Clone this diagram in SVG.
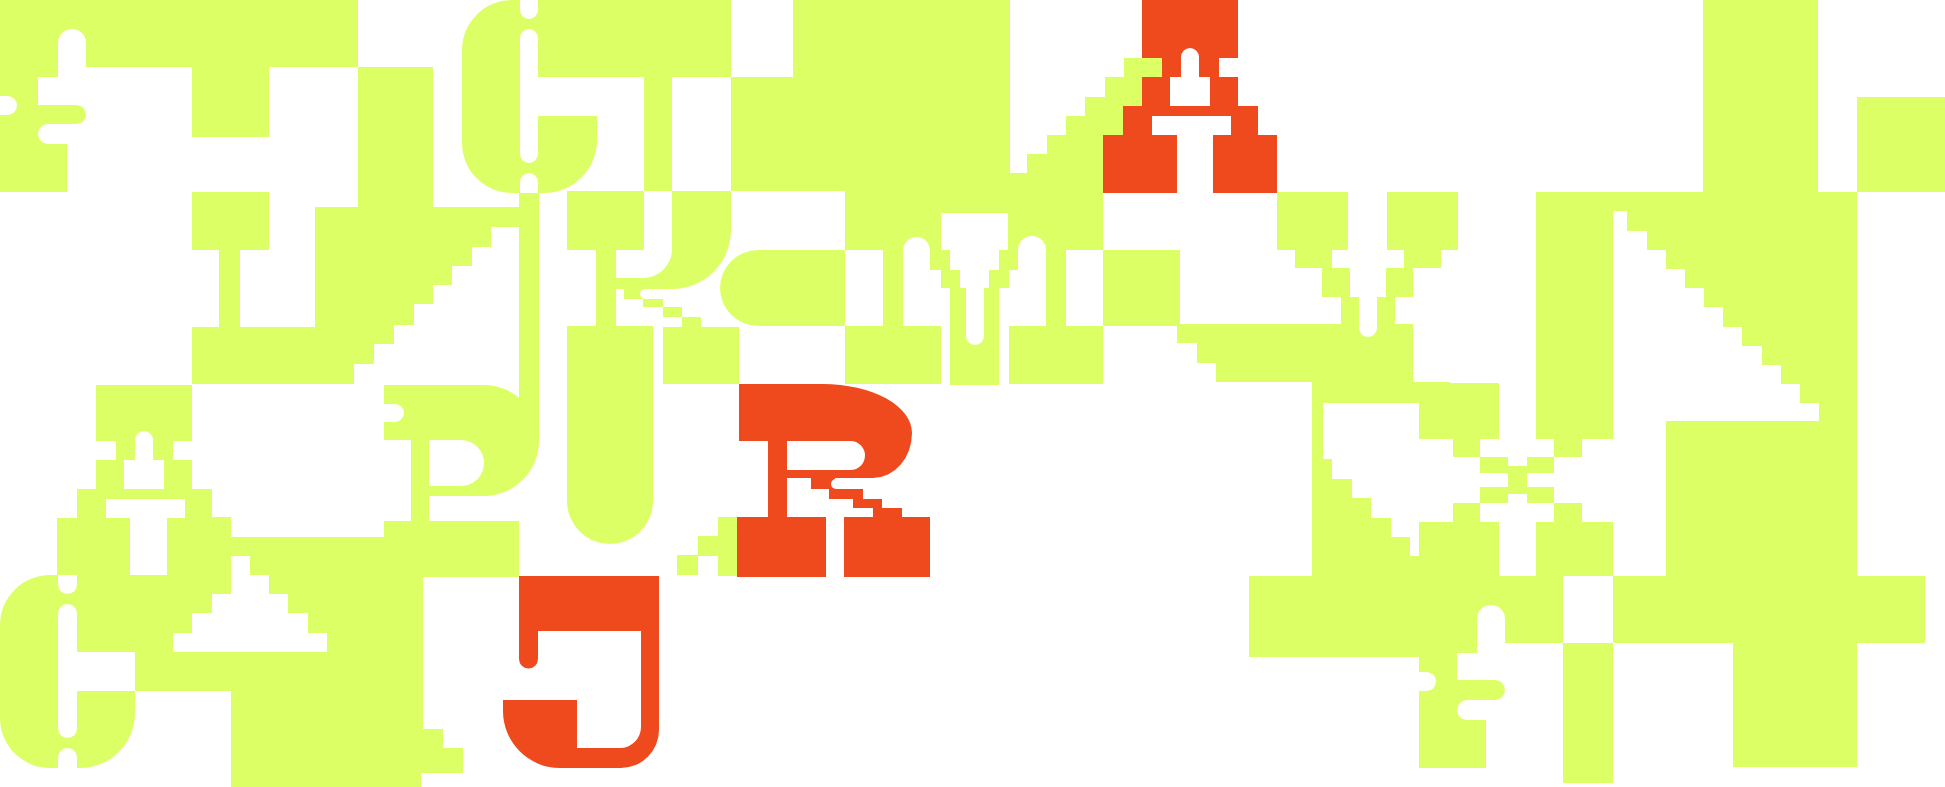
<svg xmlns="http://www.w3.org/2000/svg" width="1945" height="787" viewBox="0 0 1945 787">
<style>
.y{fill:#ddff66}
.o{fill:#ef4a1e}
.w{fill:#ffffff}
</style>
<rect x="0" y="0" width="1945" height="787" fill="#ffffff"/>
<g id="top-left-f">
<rect class="y" x="0" y="0" width="358" height="67"/>
<rect class="y" x="0" y="67" width="67" height="125"/>
<rect class="y" x="192" y="67" width="77" height="70"/>
<path class="w" d="M58,77 V43 A14,14 0 0 1 86,43 V77 Z"/>
<rect class="w" x="38" y="77" width="48" height="28"/>
<path class="y" d="M38,105 H76.5 A9.5,9.5 0 0 1 76.5,124 H38 Z"/>
<path class="w" d="M67,124 H48 A10,10 0 0 0 48,144 H67 Z"/>
<path class="w" d="M0,96 H7.5 A9.5,9.5 0 0 1 7.5,115 H0 Z"/>
</g>
<g id="t-left">
<rect class="y" x="192" y="192" width="77" height="58"/>
<rect class="y" x="219" y="250" width="21" height="77"/>
<rect class="y" x="192" y="327" width="162" height="57"/>
<path class="y" d="M358,67 H433 V207 H519 V227 H491 V247 H472 V266 H452 V285 H433 V304 H414 V325 H394 V344 H374 V364 H354 V384 H315 V207 H358 Z"/>
<rect class="y" x="519" y="193" width="20" height="248"/>
</g>
<g id="c-top">
<path class="y" d="M512,0 H731 V77 H538 V116 H597 V140 A53,53 0 0 1 544,193 H512 A50,50 0 0 1 462,143 V50 A50,50 0 0 1 512,0 Z"/>
<rect class="y" x="644" y="77" width="28" height="114"/>
<path class="w" d="M520,0 V10 A9,9 0 0 0 538,10 V0 Z"/>
<rect class="w" x="520" y="29" width="18" height="134" rx="9"/>
<path class="w" d="M520,193 V182 A9,9 0 0 1 538,182 V193 Z"/>
</g>
<g id="hook">
<rect class="y" x="567" y="191" width="77" height="59"/>
<rect class="y" x="596" y="250" width="20" height="76"/>
<path class="y" d="M672,191 H731 V230 A59,59 0 0 1 672,289 H596 V278 H643 A29,29 0 0 0 672,249 Z"/>
<path class="y" d="M567,326 H653 V501 A43,43 0 0 1 567,501 Z"/>
<rect class="y" x="624" y="289" width="22" height="10"/>
<circle class="w" cx="645" cy="294" r="5"/>
<rect class="y" x="643" y="299" width="20" height="8"/>
<rect class="y" x="663" y="307" width="19" height="10"/>
<rect class="y" x="682" y="317" width="19" height="10"/>
<rect class="y" x="663" y="327" width="76" height="57"/>
</g>
<g id="pill">
<path class="y" d="M758,250 H845 V326 H758 A38,38 0 0 1 758,250 Z"/>
</g>
<g id="middle-top">
<path class="y" d="M731,77 V191 H845 V250 H941 V213 H1008 V250 H1103 V135 H1123 V106 H1142 V77 H1162 V58 H1124 V77 H1105 V97 H1085 V116 H1066 V135 H1047 V154 H1027 V173 H1010 V0 H793 V77 Z"/>
</g>
<g id="funnel">
<rect class="y" x="883" y="250" width="20" height="76"/>
<path class="w" d="M903,326 V250.5 A13.5,13.5 0 0 1 930,250.5 V326 Z"/>
<rect class="y" x="930" y="250" width="20" height="20"/>
<rect class="y" x="941" y="270" width="19" height="18"/>
<rect class="y" x="950" y="288" width="49" height="97"/>
<rect class="y" x="999" y="250" width="19" height="20"/>
<rect class="y" x="989" y="270" width="20" height="18"/>
<path class="w" d="M966,270 V336 A9,9 0 0 0 984,336 V270 Z"/>
<path class="w" d="M1018,326 V250 A14,14 0 0 1 1046,250 V326 Z"/>
<rect class="y" x="1046" y="250" width="20" height="76"/>
<rect class="y" x="845" y="326" width="96" height="58"/>
<rect class="y" x="1009" y="326" width="94" height="58"/>
<rect class="y" x="1103" y="250" width="77" height="76"/>
</g>
<g id="orange-a">
<rect class="o" x="1142" y="0" width="96" height="58"/>
<rect class="o" x="1162" y="58" width="19" height="19"/>
<rect class="o" x="1199" y="58" width="20" height="19"/>
<rect class="o" x="1142" y="77" width="28" height="29"/>
<rect class="o" x="1210" y="77" width="28" height="29"/>
<rect class="o" x="1123" y="106" width="135" height="10"/>
<rect class="o" x="1123" y="116" width="29" height="19"/>
<rect class="o" x="1231" y="116" width="27" height="19"/>
<rect class="o" x="1103" y="135" width="74" height="58"/>
<rect class="o" x="1213" y="135" width="64" height="58"/>
<path class="w" d="M1181,77 V57 A9,9 0 0 1 1199,57 V77 Z"/>
</g>
<g id="v-frame">
<rect class="y" x="1277" y="192" width="71" height="58"/>
<rect class="y" x="1295" y="250" width="37" height="18"/>
<rect class="y" x="1322" y="268" width="28" height="29"/>
<rect class="y" x="1341" y="297" width="18" height="27"/>
<rect class="y" x="1387" y="192" width="71" height="58"/>
<rect class="y" x="1404" y="250" width="37" height="18"/>
<rect class="y" x="1386" y="268" width="27" height="29"/>
<rect class="y" x="1377" y="297" width="18" height="27"/>
<path class="y" d="M1177,324 H1413 V382 H1450 V439 H1419 V403 H1323 V459 H1332 V479 H1352 V498 H1371 V518 H1391 V537 H1410 V556 H1419 V522 H1450 V576 H1312 V382 H1216 V363 H1197 V343 H1177 Z"/>
<path class="w" d="M1359,297 V328 A9,9 0 0 0 1377,328 V297 Z"/>
</g>
<g id="x-mark">
<rect class="y" x="1419" y="383" width="80" height="56"/>
<rect class="y" x="1453" y="439" width="27" height="18"/>
<rect class="y" x="1480" y="457" width="28" height="16"/>
<rect class="y" x="1508" y="466" width="19" height="28"/>
<rect class="y" x="1527" y="457" width="27" height="16"/>
<rect class="y" x="1554" y="439" width="28" height="18"/>
<rect class="y" x="1480" y="487" width="28" height="16"/>
<rect class="y" x="1527" y="487" width="27" height="16"/>
<rect class="y" x="1453" y="503" width="27" height="19"/>
<rect class="y" x="1554" y="503" width="28" height="19"/>
<rect class="y" x="1419" y="522" width="80" height="54"/>
<rect class="y" x="1536" y="522" width="77" height="54"/>
</g>
<g id="right-n">
<rect class="y" x="1703" y="0" width="115" height="192"/>
<rect class="y" x="1857" y="97" width="88" height="95"/>
<path class="y" d="M1536,192 H1857 V576 H1666 V421 H1819 V403 H1800 V384 H1781 V365 H1762 V346 H1742 V327 H1723 V307 H1704 V288 H1685 V269 H1666 V250 H1647 V231 H1627 V211 H1613 V439 H1536 Z"/>
<rect class="y" x="1613" y="576" width="312" height="67"/>
<rect class="y" x="1733" y="643" width="124" height="124"/>
<rect class="y" x="1563" y="643" width="50" height="140"/>
</g>
<g id="lower-right-f">
<rect class="y" x="1249" y="576" width="314" height="67"/>
<rect class="y" x="1249" y="643" width="201" height="14"/>
<rect class="y" x="1419" y="643" width="58" height="10"/>
<rect class="y" x="1419" y="653" width="38" height="115"/>
<path class="w" d="M1477,653 V619 A14,14 0 0 1 1505,619 V653 Z"/>
<path class="y" d="M1419,680 H1495 A10,10 0 0 1 1495,700 H1419 Z"/>
<rect class="y" x="1419" y="700" width="67" height="68"/>
<path class="w" d="M1486,700 H1467 A10,10 0 0 0 1467,720 H1486 Z"/>
<path class="w" d="M1419,672 H1426.5 A9.5,9.5 0 0 1 1426.5,691 H1419 Z"/>
</g>
<g id="lower-left-a">
<rect class="y" x="96" y="385" width="96" height="56"/>
<rect class="y" x="116" y="441" width="57" height="19"/>
<rect class="y" x="96" y="460" width="28" height="29"/>
<rect class="y" x="164" y="460" width="28" height="29"/>
<rect class="y" x="77" y="489" width="135" height="10"/>
<rect class="y" x="77" y="499" width="29" height="19"/>
<rect class="y" x="185" y="499" width="27" height="19"/>
<rect class="y" x="57" y="518" width="73" height="57"/>
<rect class="y" x="167" y="518" width="45" height="57"/>
<rect class="y" x="212" y="517" width="19" height="77"/>
<path class="w" d="M135,460 V440 A9,9 0 0 1 153,440 V460 Z"/>
</g>
<g id="lower-left-block">
<rect class="y" x="167" y="537" width="256" height="154"/>
<rect class="y" x="135" y="575" width="32" height="116"/>
<rect class="y" x="384" y="521" width="135" height="56"/>
<rect class="y" x="231" y="691" width="192" height="82"/>
<rect class="y" x="231" y="773" width="190" height="14"/>
<rect class="y" x="423" y="729" width="20" height="44"/>
<rect class="y" x="443" y="748" width="20" height="25"/>
<polygon class="w" points="231,556 250,556 250,575 269,575 269,594 288,594 288,613 308,613 308,633 327,633 327,652 173,652 173,633 192,633 192,613 212,613 212,594 231,594"/>
</g>
<g id="lower-left-c">
<path class="y" d="M50,575 H135 V652 H77 V691 H135 V713 A55,55 0 0 1 80,768 H50 A50,50 0 0 1 0,718 V625 A50,50 0 0 1 50,575 Z"/>
<path class="w" d="M58,575 V584.5 A9.5,9.5 0 0 0 77,584.5 V575 Z"/>
<rect class="w" x="58" y="604" width="19" height="134" rx="9.5"/>
<path class="w" d="M58,768 V757.5 A9.5,9.5 0 0 1 77,757.5 V768 Z"/>
</g>
<g id="p-glyph">
<path class="y" d="M384,385 H484 A55,55.5 0 0 1 484,496 H429 V521 H411 V440 H384 Z"/>
<rect class="y" x="519" y="385" width="20" height="56"/>
<path class="w" d="M429,440 H461 A23,23 0 0 1 461,486 H429 Z"/>
<path class="w" d="M384,404 H395 A9,9 0 0 1 395,422 H384 Z"/>
</g>
<g id="r-steps">
<rect class="y" x="718" y="517" width="19" height="59"/>
<rect class="y" x="698" y="536" width="20" height="20"/>
<rect class="y" x="677" y="555" width="21" height="20"/>
</g>
<g id="orange-r">
<path class="o" d="M739,384 H823 A89,49 0 0 1 912,433 A39,45 0 0 1 873,478 H787 V517 H768 V441 H739 Z"/>
<rect class="o" x="811" y="478" width="24" height="11"/>
<circle class="w" cx="836" cy="484" r="5"/>
<rect class="o" x="829" y="489" width="34" height="10"/>
<rect class="o" x="853" y="499" width="29" height="9"/>
<rect class="o" x="873" y="508" width="29" height="9"/>
<path class="w" d="M787,441 H850.5 A14.5,14.5 0 0 1 850.5,470 H787 Z"/>
<rect class="o" x="737" y="517" width="89" height="60"/>
<rect class="o" x="844" y="517" width="86" height="60"/>
</g>
<g id="orange-j">
<path class="o" d="M519,576 H659 V730 A38,38 0 0 1 621,768 H560 A57,57 0 0 1 503,711 V700 H577 V748 H620 A21,21 0 0 0 641,727 V631 H538 V659 A9.5,9.5 0 0 1 519,659 Z"/>
</g>
</svg>
